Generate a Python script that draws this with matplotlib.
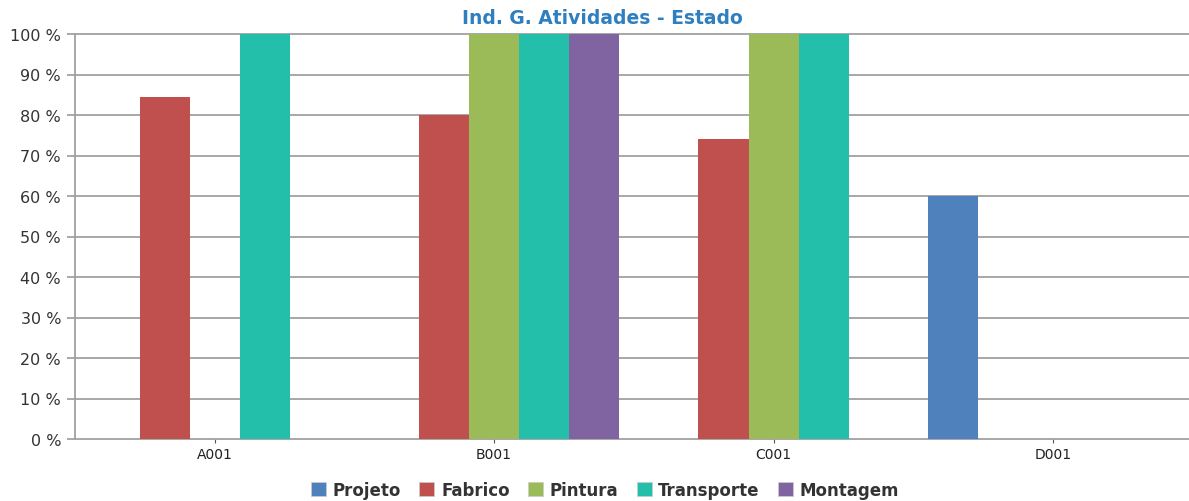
import matplotlib.pyplot as plt
import numpy as np
from matplotlib.patches import Patch

categories = ["A001", "B001", "C001", "D001"]
series = ["Projeto", "Fabrico", "Pintura", "Transporte", "Montagem"]
colors = ["#4F81BD", "#C0504D", "#9BBB59", "#23BFAA", "#8064A2"]

projeto = [0, 0, 0, 60]
fabrico = [84.5, 80, 74, 0]
pintura = [0, 100, 100, 0]
transporte = [100, 100, 100, 0]
montagem = [0, 100, 0, 0]
values = [projeto, fabrico, pintura, transporte, montagem]

fig = plt.figure(figsize=(11.89, 5.02), dpi=100)
ax = fig.add_axes([75 / 1189, 1 - 440 / 502, 1 - 75 / 1189, (440 - 35) / 502])

x = np.arange(len(categories))
w = 0.179
for i, (name, vals) in enumerate(zip(series, values)):
    ax.bar(x + (i - 2) * w, vals, width=w, color=colors[i], zorder=3)

ax.set_xlim(-0.5, 3.487)
ax.set_ylim(0, 100)
ax.set_yticks(range(0, 101, 10))
ax.set_yticklabels([f"{v} %" for v in range(0, 101, 10)], fontsize=11.5, color="#333333")
ax.set_xticks(x)
ax.set_xticklabels(categories, fontsize=10, color="#222222")
ax.tick_params(axis="y", length=6, color="#999999", width=1.2, pad=4)
ax.tick_params(axis="x", length=3, color="#555555", width=0.8, pad=3)
ax.yaxis.grid(True, color="#a0a0a0", linewidth=1.3, zorder=0)
for gl in ax.get_ygridlines():
    gl.set_clip_on(False)
for s in ["top", "right", "bottom"]:
    ax.spines[s].set_visible(False)
ax.spines["left"].set_color("#a0a0a0")
ax.spines["left"].set_linewidth(1.3)

fig.text(0.507, 1 - 19 / 502, "Ind. G. Atividades - Estado", ha="center", va="center",
         fontsize=13.5, fontweight="bold", color="#2E7FBF")

handles = [Patch(facecolor=c, edgecolor="#cccccc", linewidth=0.5) for c in colors]
fig.legend(handles, series, loc="center", bbox_to_anchor=(0.509, 1 - 491 / 502), ncol=5,
           frameon=False, handlelength=0.9, handleheight=0.9,
           handletextpad=0.4, columnspacing=1.1, prop={"weight": "bold", "size": 12})
for t in fig.legends[0].get_texts():
    t.set_color("#333333")

fig.savefig("out.png", dpi=100)
